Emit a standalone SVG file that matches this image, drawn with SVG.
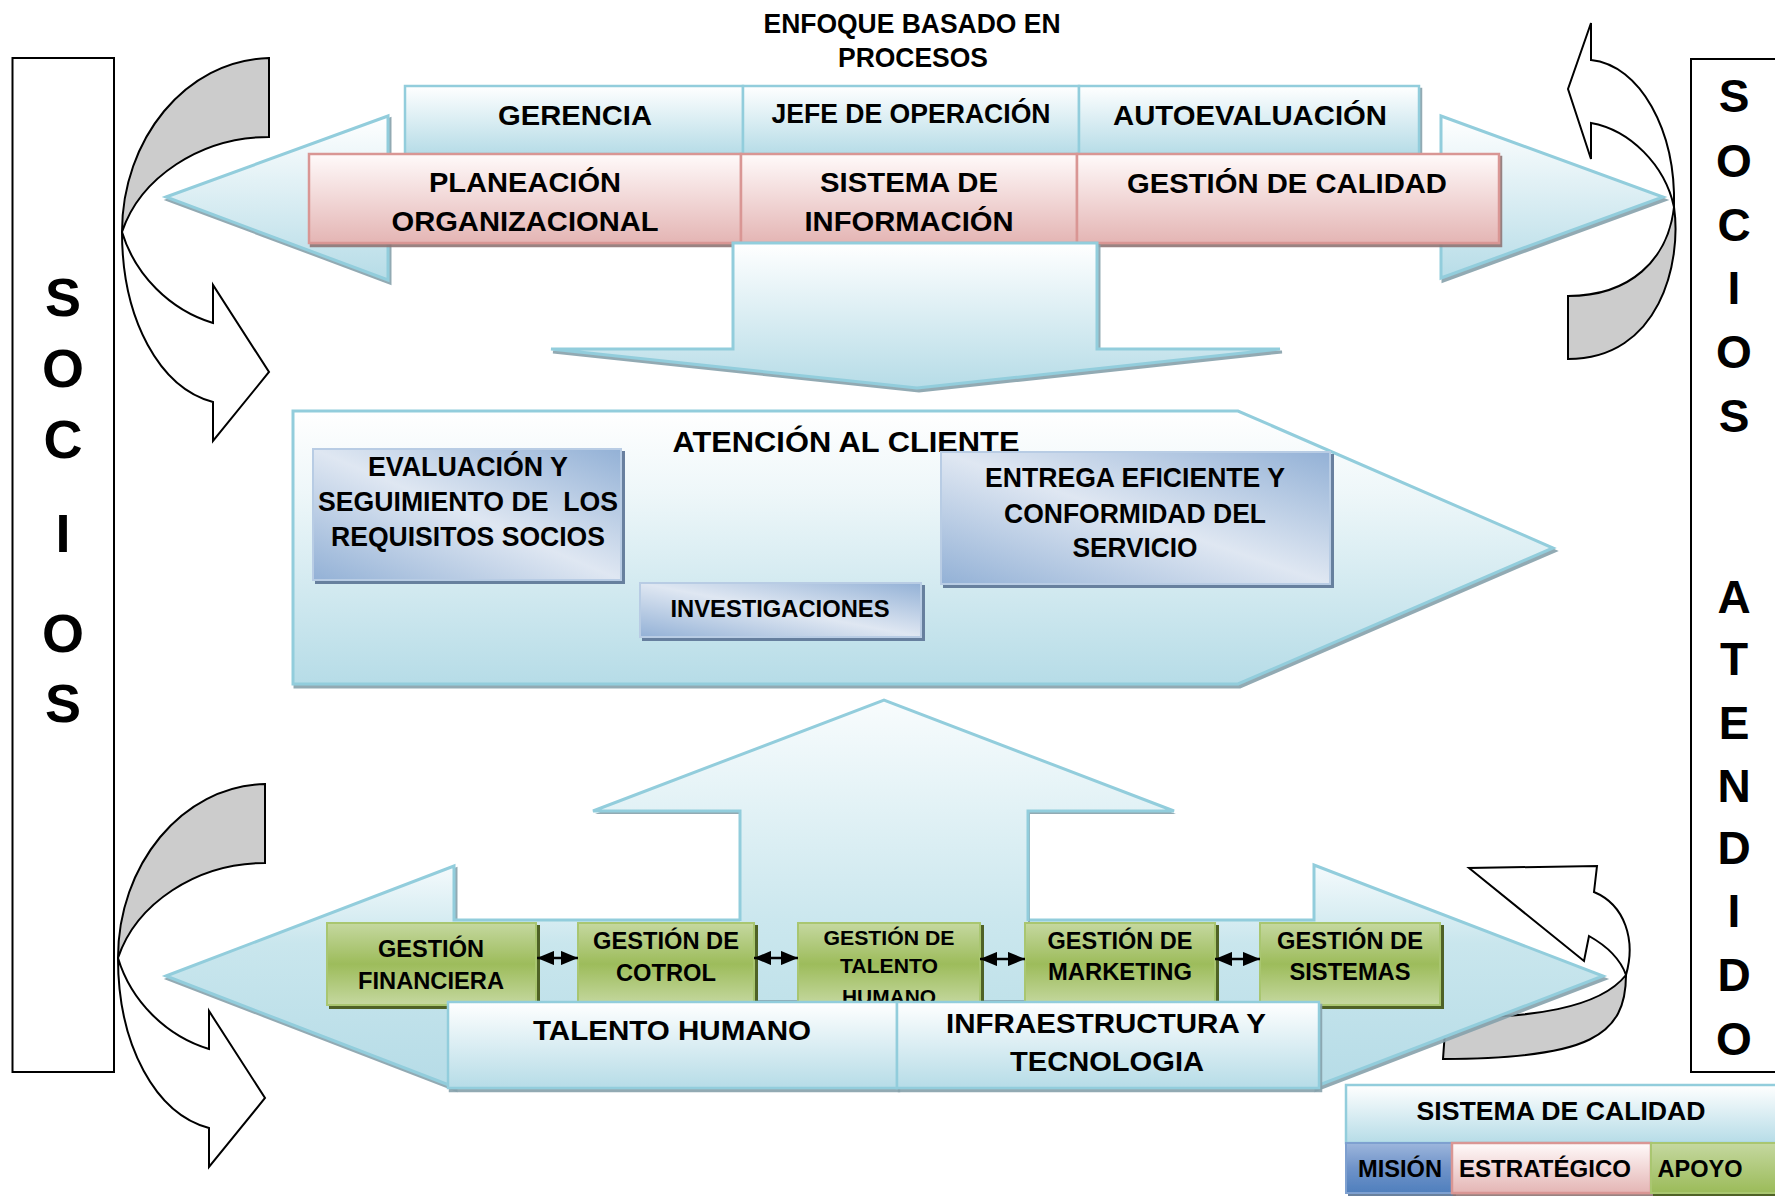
<svg xmlns="http://www.w3.org/2000/svg" width="1775" height="1196" viewBox="0 0 1775 1196">
<defs>
<style>
.t{font-family:"Liberation Sans",Arial,Helvetica,sans-serif;font-weight:bold;fill:#000;text-anchor:middle}
.bar{fill:#fff;stroke:#000;stroke-width:2}
.cvg{fill:#cccccc;stroke:#000;stroke-width:2;stroke-linejoin:miter}
.cvw{fill:#fff;stroke:#000;stroke-width:2;stroke-linejoin:miter}
.blu{fill:url(#gHead);stroke:#92cddc;stroke-width:2.5}
.pnk{fill:url(#gPink);stroke:#d99694;stroke-width:2.5}
.grn{fill:url(#gGreen);stroke:#a9c66f;stroke-width:2}
.bbx{fill:url(#gBox);stroke:#b8cce4;stroke-width:2}
.arr{stroke:#92cddc;stroke-width:3;stroke-linejoin:miter}
.con{stroke:#000;stroke-width:2.5;fill:none;marker-start:url(#ah);marker-end:url(#ah)}
</style>
<linearGradient id="gHead" x1="0" y1="0" x2="0" y2="1"><stop offset="0" stop-color="#ffffff"/><stop offset="1" stop-color="#b6dce7"/></linearGradient>
<linearGradient id="gPink" x1="0" y1="0" x2="0" y2="1"><stop offset="0" stop-color="#fffafa"/><stop offset="1" stop-color="#e4b5b4"/></linearGradient>
<linearGradient id="gGreen" x1="0" y1="0" x2="0" y2="1"><stop offset="0" stop-color="#c5d8a0"/><stop offset="0.5" stop-color="#9dbc5b"/><stop offset="1" stop-color="#c5d8a0"/></linearGradient>
<linearGradient id="gBox" x1="1" y1="0" x2="0" y2="1"><stop offset="0" stop-color="#93b1d6"/><stop offset="0.5" stop-color="#dfe7f2"/><stop offset="1" stop-color="#93b1d6"/></linearGradient>
<linearGradient id="gMis" x1="0" y1="0" x2="0" y2="1"><stop offset="0" stop-color="#9db6dc"/><stop offset="0.5" stop-color="#6f93c9"/><stop offset="1" stop-color="#4f7fbd"/></linearGradient>
<linearGradient id="gApo" x1="0" y1="0" x2="0" y2="1"><stop offset="0" stop-color="#c5d8a0"/><stop offset="1" stop-color="#9bbb59"/></linearGradient>
<linearGradient id="gTop" gradientUnits="userSpaceOnUse" x1="0" y1="116" x2="0" y2="280"><stop offset="0" stop-color="#ffffff"/><stop offset="1" stop-color="#b6dce7"/></linearGradient>
<linearGradient id="gDown" gradientUnits="userSpaceOnUse" x1="0" y1="243" x2="0" y2="388"><stop offset="0" stop-color="#ffffff"/><stop offset="1" stop-color="#b6dce7"/></linearGradient>
<linearGradient id="gAt" gradientUnits="userSpaceOnUse" x1="0" y1="411" x2="0" y2="684"><stop offset="0" stop-color="#ffffff"/><stop offset="0.3" stop-color="#eef7f9"/><stop offset="1" stop-color="#b6dce7"/></linearGradient>
<linearGradient id="gUp" gradientUnits="userSpaceOnUse" x1="0" y1="701" x2="0" y2="1000"><stop offset="0" stop-color="#f8fcfd"/><stop offset="0.73" stop-color="#cbe7ee"/><stop offset="1" stop-color="#c1e2ea"/></linearGradient>
<linearGradient id="gBot" gradientUnits="userSpaceOnUse" x1="0" y1="866" x2="0" y2="1087"><stop offset="0" stop-color="#f4fafc"/><stop offset="0.35" stop-color="#c9e6ed"/><stop offset="1" stop-color="#b6dce7"/></linearGradient>
<filter id="shA" x="-5%" y="-5%" width="115%" height="125%"><feDropShadow dx="2" dy="3" stdDeviation="0.5" flood-color="#86a1ab" flood-opacity="0.9"/></filter>
<filter id="shP" x="-5%" y="-5%" width="115%" height="125%"><feDropShadow dx="2" dy="3" stdDeviation="0.5" flood-color="#8e7575" flood-opacity="0.9"/></filter>
<filter id="shG" x="-5%" y="-5%" width="115%" height="125%"><feDropShadow dx="3" dy="3" stdDeviation="0.4" flood-color="#4f6228" flood-opacity="1"/></filter>
<filter id="shB" x="-5%" y="-5%" width="115%" height="125%"><feDropShadow dx="3" dy="3" stdDeviation="0.5" flood-color="#62799a" flood-opacity="0.95"/></filter>
<marker id="ah" viewBox="0 0 12 10" refX="12" refY="5" markerWidth="7" markerHeight="5.8" orient="auto-start-reverse"><path d="M0,0 L12,5 L0,10 Z" fill="#000"/></marker>
<g id="curveL">
<path class="cvg" d="M269,58 C185,60 122,140 122,232 C140,178 200,137 269,137 Z"/>
<path class="cvw" d="M122,232 C122,320 160,388 213,402 L213,441 L269,372 L213,285 L213,323 C170,310 135,275 122,232 Z"/>
</g>
</defs>

<g id="socios-left">
<rect class="bar" x="12.5" y="58" width="101.5" height="1014"/>
<text class="t" font-size="54" x="63" y="316">S</text>
<text class="t" font-size="54" x="63" y="387">O</text>
<text class="t" font-size="54" x="63" y="458">C</text>
<text class="t" font-size="54" x="63" y="552">I</text>
<text class="t" font-size="54" x="63" y="652">O</text>
<text class="t" font-size="54" x="63" y="722">S</text>
</g>

<g id="socios-atendidos">
<rect class="bar" x="1691" y="59" width="110" height="1013"/>
<text class="t" font-size="46" x="1734" y="112">S</text>
<text class="t" font-size="46" x="1734" y="177">O</text>
<text class="t" font-size="46" x="1734" y="241">C</text>
<text class="t" font-size="46" x="1734" y="304">I</text>
<text class="t" font-size="46" x="1734" y="368">O</text>
<text class="t" font-size="46" x="1734" y="432">S</text>
<text class="t" font-size="46" x="1734" y="613">A</text>
<text class="t" font-size="46" x="1734" y="675">T</text>
<text class="t" font-size="46" x="1734" y="739">E</text>
<text class="t" font-size="46" x="1734" y="802">N</text>
<text class="t" font-size="46" x="1734" y="864">D</text>
<text class="t" font-size="46" x="1734" y="927">I</text>
<text class="t" font-size="46" x="1734" y="991">D</text>
<text class="t" font-size="46" x="1734" y="1055">O</text>
</g>

<g id="curve-bottom-right">
<path class="cvg" d="M1626,975 C1626,1035 1590,1059 1443,1059 L1446,1017 C1530,1019 1600,1008 1626,975 Z"/>
<path class="cvw" d="M1626,975 C1636,940 1625,905 1594,892 L1597,866 L1469,868 L1584,961 L1589,936 C1605,945 1620,958 1626,975 Z"/>
</g>

<g id="arrow-top">
<path class="arr" fill="url(#gTop)" filter="url(#shA)" d="M166,197 L388,116 L388,160 L1441,160 L1441,116 L1663,197 L1441,278 L1441,236 L388,236 L388,280 Z"/>
</g>

<g id="title">
<text class="t" font-size="27" x="912" y="33" textLength="297" lengthAdjust="spacingAndGlyphs">ENFOQUE BASADO EN</text>
<text class="t" font-size="27" x="913" y="67" textLength="150" lengthAdjust="spacingAndGlyphs">PROCESOS</text>
</g>

<g id="gerencia">
<rect class="blu" x="405" y="86" width="338" height="68"/>
<text class="t" font-size="28" x="575" y="125" textLength="154" lengthAdjust="spacingAndGlyphs">GERENCIA</text>
</g>
<g id="jefe-operacion">
<rect class="blu" x="743" y="86" width="336" height="68"/>
<text class="t" font-size="27" x="911" y="123" textLength="279" lengthAdjust="spacingAndGlyphs">JEFE DE OPERACIÓN</text>
</g>
<g id="autoevaluacion">
<rect class="blu" x="1079" y="86" width="340" height="68" filter="url(#shA)"/>
<text class="t" font-size="28" x="1250" y="125" textLength="274" lengthAdjust="spacingAndGlyphs">AUTOEVALUACIÓN</text>
</g>

<g id="planeacion">
<rect class="pnk" x="309" y="154" width="432" height="89" filter="url(#shP)"/>
<text class="t" font-size="28" x="525" y="192" textLength="192" lengthAdjust="spacingAndGlyphs">PLANEACIÓN</text>
<text class="t" font-size="28" x="525" y="231" textLength="267" lengthAdjust="spacingAndGlyphs">ORGANIZACIONAL</text>
</g>
<g id="sistema-informacion">
<rect class="pnk" x="741" y="154" width="336" height="89" filter="url(#shP)"/>
<text class="t" font-size="28" x="909" y="192" textLength="178" lengthAdjust="spacingAndGlyphs">SISTEMA DE</text>
<text class="t" font-size="28" x="909" y="231" textLength="209" lengthAdjust="spacingAndGlyphs">INFORMACIÓN</text>
</g>
<g id="gestion-calidad">
<rect class="pnk" x="1077" y="154" width="422" height="89" filter="url(#shP)"/>
<text class="t" font-size="28" x="1287" y="193" textLength="320" lengthAdjust="spacingAndGlyphs">GESTIÓN DE CALIDAD</text>
</g>

<g id="arrow-down">
<path class="arr" fill="url(#gDown)" filter="url(#shA)" d="M733,243 L1097,243 L1097,349 L1280,349 L917,388 L551,349 L733,349 Z"/>
</g>

<g id="atencion-cliente">
<path class="arr" fill="url(#gAt)" filter="url(#shA)" d="M293,411 L1238,411 L1553,548 L1238,684 L293,684 Z"/>
<text class="t" font-size="29" x="846" y="452" textLength="347" lengthAdjust="spacingAndGlyphs">ATENCIÓN AL CLIENTE</text>
</g>
<g id="evaluacion">
<rect class="bbx" x="313" y="449" width="308" height="131" filter="url(#shB)"/>
<text class="t" font-size="27" x="468" y="476" textLength="200" lengthAdjust="spacingAndGlyphs">EVALUACIÓN Y</text>
<text class="t" font-size="27" x="468" y="511" textLength="300" lengthAdjust="spacingAndGlyphs" xml:space="preserve">SEGUIMIENTO DE  LOS</text>
<text class="t" font-size="27" x="468" y="546" textLength="274" lengthAdjust="spacingAndGlyphs">REQUISITOS SOCIOS</text>
</g>
<g id="investigaciones">
<rect class="bbx" x="640" y="583" width="281" height="54" filter="url(#shB)"/>
<text class="t" font-size="24" x="780" y="617" textLength="219" lengthAdjust="spacingAndGlyphs">INVESTIGACIONES</text>
</g>
<g id="entrega">
<rect class="bbx" x="941" y="452" width="389" height="132" filter="url(#shB)"/>
<text class="t" font-size="27" x="1135" y="487" textLength="300" lengthAdjust="spacingAndGlyphs">ENTREGA EFICIENTE Y</text>
<text class="t" font-size="27" x="1135" y="523" textLength="262" lengthAdjust="spacingAndGlyphs">CONFORMIDAD DEL</text>
<text class="t" font-size="27" x="1135" y="557" textLength="125" lengthAdjust="spacingAndGlyphs">SERVICIO</text>
</g>

<g id="arrow-bottom">
<path class="arr" fill="url(#gBot)" filter="url(#shA)" d="M166,976 L454,866 L454,920 L1314,920 L1314,865 L1603,976 L1314,1087 L1314,1032 L454,1032 L454,1087 Z"/>
</g>
<g id="arrow-up">
<path fill="url(#gUp)" filter="url(#shA)" d="M740,1000 L740,811 L593,811 L884,700 L1174,811 L1028,811 L1028,1000 Z"/>
<path class="arr" fill="none" d="M740,921 L740,811 L593,811 L884,700 L1174,811 L1028,811 L1028,921"/>
</g>

<g id="gestion-financiera">
<rect class="grn" x="327" y="923" width="209" height="82" filter="url(#shG)"/>
<text class="t" font-size="24" x="431" y="957" textLength="106" lengthAdjust="spacingAndGlyphs">GESTIÓN</text>
<text class="t" font-size="24" x="431" y="989" textLength="146" lengthAdjust="spacingAndGlyphs">FINANCIERA</text>
</g>
<g id="gestion-cotrol">
<rect class="grn" x="578" y="923" width="176" height="82" filter="url(#shG)"/>
<text class="t" font-size="24" x="666" y="949" textLength="146" lengthAdjust="spacingAndGlyphs">GESTIÓN DE</text>
<text class="t" font-size="24" x="666" y="981" textLength="100" lengthAdjust="spacingAndGlyphs">COTROL</text>
</g>
<g id="gestion-talento">
<rect class="grn" x="798" y="923" width="182" height="82" filter="url(#shG)"/>
<text class="t" font-size="21" x="889" y="945" textLength="131" lengthAdjust="spacingAndGlyphs">GESTIÓN DE</text>
<text class="t" font-size="21" x="889" y="973" textLength="98" lengthAdjust="spacingAndGlyphs">TALENTO</text>
<text class="t" font-size="21" x="889" y="1004" textLength="94" lengthAdjust="spacingAndGlyphs">HUMANO</text>
</g>
<g id="gestion-marketing">
<rect class="grn" x="1025" y="923" width="190" height="82" filter="url(#shG)"/>
<text class="t" font-size="24" x="1120" y="949" textLength="145" lengthAdjust="spacingAndGlyphs">GESTIÓN DE</text>
<text class="t" font-size="24" x="1120" y="980" textLength="144" lengthAdjust="spacingAndGlyphs">MARKETING</text>
</g>
<g id="gestion-sistemas">
<rect class="grn" x="1260" y="923" width="180" height="82" filter="url(#shG)"/>
<text class="t" font-size="24" x="1350" y="949" textLength="146" lengthAdjust="spacingAndGlyphs">GESTIÓN DE</text>
<text class="t" font-size="24" x="1350" y="980" textLength="121" lengthAdjust="spacingAndGlyphs">SISTEMAS</text>
</g>

<g id="connectors">
<line class="con" x1="537" y1="958" x2="578" y2="958"/>
<line class="con" x1="754" y1="958" x2="798" y2="958"/>
<line class="con" x1="980" y1="959" x2="1025" y2="959"/>
<line class="con" x1="1215" y1="959" x2="1260" y2="959"/>
</g>

<g id="talento-humano">
<rect class="blu" x="448" y="1002" width="449" height="86" filter="url(#shA)"/>
<text class="t" font-size="28" x="672" y="1040" textLength="278" lengthAdjust="spacingAndGlyphs">TALENTO HUMANO</text>
</g>
<g id="infraestructura">
<rect class="blu" x="897" y="1002" width="422" height="86" filter="url(#shA)"/>
<text class="t" font-size="28" x="1106" y="1033" textLength="320" lengthAdjust="spacingAndGlyphs">INFRAESTRUCTURA Y</text>
<text class="t" font-size="28" x="1107" y="1071" textLength="194" lengthAdjust="spacingAndGlyphs">TECNOLOGIA</text>
</g>

<g id="curve-top-left"><use href="#curveL"/></g>
<g id="curve-bottom-left"><use href="#curveL" transform="translate(-4,726)"/></g>
<g id="curve-top-right">
<path class="cvg" d="M1674,207 C1682,262 1660,359 1568,359 L1568,296 C1630,296 1668,260 1674,207 Z"/>
<path class="cvw" d="M1674,207 C1676,130 1640,65 1591,60 L1591,23 L1568,89 L1591,159 L1591,123 C1630,130 1665,165 1674,207 Z"/>
</g>

<g id="legend">
<rect class="blu" x="1346" y="1085" width="440" height="58"/>
<text class="t" font-size="25" x="1561" y="1120" textLength="289" lengthAdjust="spacingAndGlyphs">SISTEMA DE CALIDAD</text>
<rect x="1346" y="1143" width="106" height="50" fill="url(#gMis)" stroke="#7ea0d0" stroke-width="2" filter="url(#shB)"/>
<text class="t" font-size="23" x="1400" y="1177" textLength="84" lengthAdjust="spacingAndGlyphs">MISIÓN</text>
<rect class="pnk" x="1452" y="1143" width="199" height="50" filter="url(#shP)"/>
<text class="t" font-size="23" x="1545" y="1177" textLength="172" lengthAdjust="spacingAndGlyphs">ESTRATÉGICO</text>
<rect x="1651" y="1143" width="140" height="50" fill="url(#gApo)" stroke="#a9c66f" stroke-width="2" filter="url(#shG)"/>
<text class="t" font-size="23" x="1700" y="1177" textLength="85" lengthAdjust="spacingAndGlyphs">APOYO</text>
</g>
</svg>
